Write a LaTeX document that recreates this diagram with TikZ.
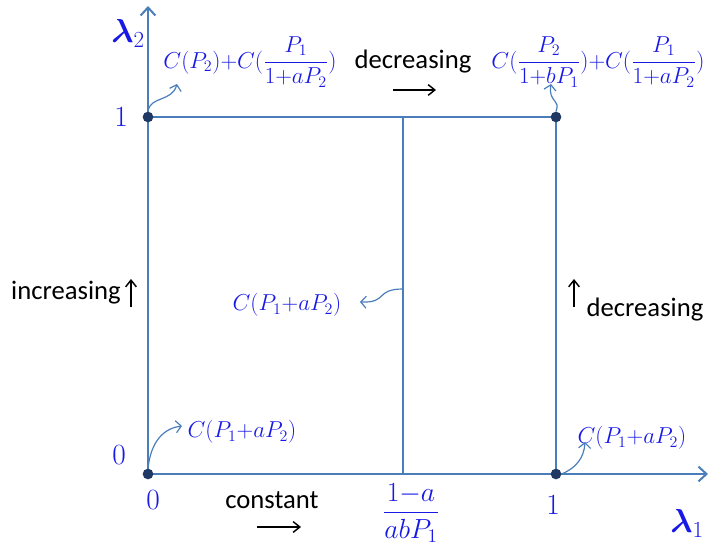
\documentclass[tikz,border=0pt]{standalone}
\usepackage{amsmath}
\usepackage{fontspec}
\setsansfont{Carlito}
\usetikzlibrary{arrows.meta}
\definecolor{axisblue}{HTML}{4A7EBB}
\definecolor{dotnavy}{HTML}{1F3864}
\definecolor{labelblue}{RGB}{25,25,230}

\begin{document}
\begin{tikzpicture}[x=0.75pt,y=-0.75pt,
    axis/.style={axisblue, line width=1.5pt},
    dot/.style={circle, fill=dotnavy, inner sep=0pt, minimum size=8pt},
    val/.style={text=labelblue, font=\fontsize{22}{26}\selectfont},
    formula/.style={text=labelblue, inner sep=1pt, font=\fontsize{17.8}{21}\selectfont},
    rate/.style={font=\sffamily\fontsize{20}{24}\selectfont},
    pointer/.style={axisblue, line width=0.9pt, -{Straight Barb[length=4pt,width=9pt]}},
    trend/.style={black, line width=1.1pt, -{Straight Barb[length=5pt,width=8pt]}}]
    \useasboundingbox (0,0) rectangle (710,548);

    % corners of the region
    \coordinate (o) at (148,474);
    \coordinate (a) at (556,474);
    \coordinate (b) at (148,117);
    \coordinate (c) at (556,117);
    \coordinate (mtop) at (403,117);
    \coordinate (mbot) at (403,474);
    \coordinate (mmid) at (403,289);
    \coordinate (ytip) at (148,6);
    \coordinate (xtip) at (708,474);

    % axes and boundary
    \draw[axis, -{Straight Barb[length=6pt,width=11pt]}] (o) -- (ytip);
    \draw[axis, -{Straight Barb[length=6pt,width=11pt]}] (o) -- (xtip);
    \draw[axis] (b) -- (c) -- (a);
    \draw[axis] (mtop) -- (mbot);

    \node[dot] (do) at (o) {};
    \node[dot] (da) at (a) {};
    \node[dot] (db) at (b) {};
    \node[dot] (dc) at (c) {};

    % axis values
    \node[val] (yone) at (121,117) {1};
    \node[val] (yzero) at (119,455) {0};
    \node[val] (xzero) at (153,500) {0};
    \node[val] (xone) at (553,505) {1};
    \node[val, font=\fontsize{26}{30}\selectfont] (ylab) at (128,33) {$\boldsymbol{\lambda}_2$};
    \node[val, font=\fontsize{26}{30}\selectfont] (xlab) at (687,523) {$\boldsymbol{\lambda}_1$};
    \node[val] (xmid) at (411,513) {$\dfrac{1{-}a}{abP_1}$};

    % rates at the corners
    \node[formula] (fb) at (250,62) {$C(P_2){+}C(\dfrac{P_1}{1{+}aP_2})$};
    \node[formula] (fc) at (598,62) {$C(\dfrac{P_2}{1{+}bP_1}){+}C(\dfrac{P_1}{1{+}aP_2})$};
    \node[formula] (fm) at (287,305) {$C(P_1{+}aP_2)$};
    \node[formula] (fo) at (242,432) {$C(P_1{+}aP_2)$};
    \node[formula] (fa) at (632,438) {$C(P_1{+}aP_2)$};

    \coordinate (fbtip) at (177,84);
    \coordinate (fctip) at (551,84);
    \coordinate (fmtip) at (360,302);
    \coordinate (fotip) at (182,426);
    \coordinate (fatip) at (585,442);

    \draw[pointer] (db.north) .. controls (150,96) and (172,102) .. (fbtip);
    \draw[pointer] (dc.north) .. controls (561,100) and (548,102) .. (fctip);
    \draw[pointer] (mmid) .. controls (375,289) and (388,303) .. (fmtip);
    \draw[pointer] (do.north) .. controls (151,440) and (165,428) .. (fotip);
    \draw[pointer] (da.east) .. controls (576,468) and (584,458) .. (fatip);

    % trends along the edges
    \node[rate] (tdec) at (413,62) {decreasing};
    \node[rate] (tcon) at (272,500) {constant};
    \node[rate] (tinc) at (66,293) {increasing};
    \node[rate] (tright) at (645,310) {decreasing};

    \coordinate (tdec-s) at (393,90);
    \coordinate (tdec-e) at (436,90);
    \coordinate (tcon-s) at (257,527);
    \coordinate (tcon-e) at (301,527);
    \coordinate (tinc-s) at (131,307);
    \coordinate (tinc-e) at (131,279);
    \coordinate (tright-s) at (574,307);
    \coordinate (tright-e) at (574,279);

    \draw[trend] (tdec-s) -- (tdec-e);
    \draw[trend] (tcon-s) -- (tcon-e);
    \draw[trend] (tinc-s) -- (tinc-e);
    \draw[trend] (tright-s) -- (tright-e);
\end{tikzpicture}
\end{document}
